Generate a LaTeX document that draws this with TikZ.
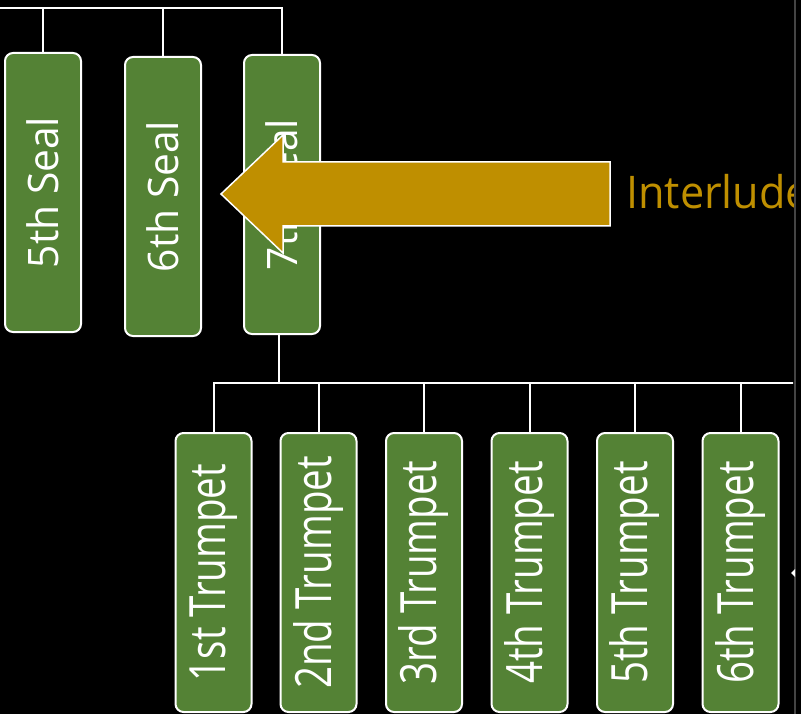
\documentclass[tikz,border=0pt]{standalone}
\usepackage{fontspec}
\setmainfont{Open Sans}
\definecolor{boxgreen}{HTML}{548235}
\definecolor{gold}{HTML}{BF8F00}
\definecolor{edgegray}{HTML}{444444}
\tikzset{
  conn/.style={draw=white, line width=2pt},
  gbox/.style={draw=white, line width=2pt, fill=boxgreen, rounded corners=8pt,
    inner sep=0pt, text=white, minimum width=76pt},
  sealbox/.style={gbox, minimum height=279pt},
  trumpbox/.style={gbox, minimum height=279pt},
}
\newcommand{\sealtxt}[1]{\rotatebox{90}{\fontsize{42pt}{42pt}\selectfont\scalebox{0.97}[1]{#1}}}
\newcommand{\trumptxt}[1]{\rotatebox{90}{\fontsize{50pt}{50pt}\selectfont\scalebox{0.77}[1]{#1}}}
\begin{document}
\begin{tikzpicture}[x=1pt, y=-1pt]
\useasboundingbox (0,0) rectangle (801,714);
\fill[black] (0,0) rectangle (801,714);
\begin{scope}
\clip (0,0) rectangle (793,714);
% seals
\node[sealbox] (s5) at (43,192.5) {\sealtxt{5th Seal}};
\node[sealbox] (s6) at (163,196.5) {\sealtxt{6th Seal}};
\node[sealbox] (s7) at (282,194.5) {\sealtxt{7th Seal}};
\coordinate (tl) at (0,8);
\draw[conn] (tl) -| (s7.north);
\draw[conn] (s5.north) -- (s5.north |- tl);
\draw[conn] (s6.north) -- (s6.north |- tl);
% trumpets
\node[trumpbox] (t1) at (213.5,572.5) {\trumptxt{1st Trumpet}};
\node[trumpbox] (t2) at (318.5,572.5) {\trumptxt{2nd Trumpet}};
\node[trumpbox] (t3) at (424,572.5) {\trumptxt{3rd Trumpet}};
\node[trumpbox] (t4) at (529.5,572.5) {\trumptxt{4th Trumpet}};
\node[trumpbox] (t5) at (635,572.5) {\trumptxt{5th Trumpet}};
\node[trumpbox] (t6) at (740.5,572.5) {\trumptxt{6th Trumpet}};
\coordinate (br) at (800,383);
\draw[conn] (t1.north) |- (br);
\draw[conn] ([xshift=-3pt]s7.south) -- ([xshift=-3pt]s7.south |- br);
\foreach \t in {t2,t3,t4,t5,t6} {
  \draw[conn] (\t.north) -- (\t.north |- br);
}
% interlude arrow
\filldraw[fill=gold, draw=white, line width=1.5pt, line join=miter]
  (610,162) -- (283,162) -- (283,135) -- (221,194) -- (283,253) -- (283,226) -- (610,226) -- cycle;
\node[anchor=base west, inner sep=0pt, text=gold] (il) at (626,209)
  {\fontsize{45pt}{45pt}\selectfont\scalebox{0.96}[1]{Interlude}};
\end{scope}
\draw[edgegray, line width=2pt] (794.5,0) -- (794.5,714);
\fill[white] (791,573) -- (795,569) -- (795,577) -- cycle;
\end{tikzpicture}
\end{document}
